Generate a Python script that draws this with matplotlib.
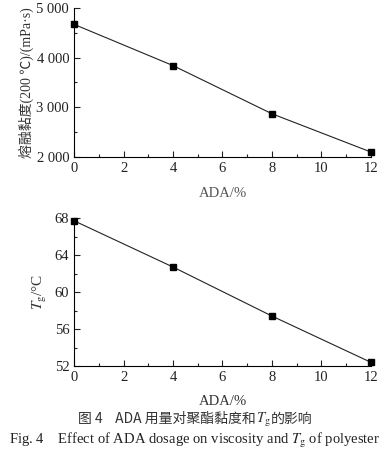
import matplotlib
matplotlib.use('Agg')
import matplotlib.pyplot as plt
from matplotlib.ticker import MultipleLocator
from matplotlib.offsetbox import TextArea, HPacker, AnchoredOffsetbox

plt.rcParams['font.family'] = ['Liberation Serif', 'Noto Sans CJK SC', 'DejaVu Sans']
plt.rcParams['mathtext.fontset'] = 'stix'

# data
ada = [0, 4, 8, 12]
viscosity = [4670, 3840, 2870, 2100]
tg = [67.7, 62.7, 57.4, 52.4]

x_ticks = [0, 2, 4, 6, 8, 10, 12]
visc_ticks = [2000, 3000, 4000, 5000]
visc_labels = ['2 000', '3 000', '4 000', '5 000']
tg_ticks = [52, 56, 60, 64, 68]

fig = plt.figure(figsize=(3.9, 4.59), dpi=100)
ax1 = fig.add_axes([0.19, 0.658, 0.761, 0.3246])
ax2 = fig.add_axes([0.19, 0.2026, 0.761, 0.3224])

def style(ax):
    for s in ['top', 'right']:
        ax.spines[s].set_visible(False)
    for s in ['left', 'bottom']:
        ax.spines[s].set_linewidth(0.8)
    ax.tick_params(which='both', direction='in', labelsize=10.5, width=0.8, colors='#222222')
    ax.tick_params(which='major', length=4)
    ax.tick_params(which='minor', length=2.5)
    ax.set_xlim(0, 12)
    ax.set_xticks(x_ticks)
    ax.xaxis.set_minor_locator(MultipleLocator(1))

ax1.plot(ada, viscosity, color='#222222', lw=0.8, marker='s', ms=5, mfc='black', mec='black', clip_on=False)
style(ax1)
ax1.set_xlabel('ADA/%', fontsize=10.5, color='#555555', labelpad=9)
ax1.set_ylim(2000, 5000)
ax1.set_yticks(visc_ticks)
ax1.set_yticklabels(visc_labels)
ax1.yaxis.set_minor_locator(MultipleLocator(500))
ax1.set_ylabel('熔融黏度(200 ℃)/(mPa·s)', fontsize=10, color='#333333', labelpad=2)

ax2.plot(ada, tg, color='#222222', lw=0.8, marker='s', ms=5, mfc='black', mec='black', clip_on=False)
style(ax2)
ax2.set_xlabel('ADA/%', fontsize=10.5, color='#333333', labelpad=8)
ax2.set_ylim(52, 68)
ax2.set_yticks(tg_ticks)
ax2.yaxis.set_minor_locator(MultipleLocator(2))
ax2.set_ylabel(r'$T_{\rm g}$/°C', fontsize=11, color='#333333', labelpad=4)

# captions (mixed CJK text and math, packed side by side)
cjk = dict(fontsize=10, color='#333333', family=['Noto Sans CJK SC', 'DejaVu Sans'])
cap_cn = HPacker(children=[
    TextArea('图 4    ADA 用量对聚酯黏度和', textprops=cjk),
    TextArea(r'$T_{\rm g}$', textprops=dict(fontsize=10.5, color='#333333')),
    TextArea('的影响', textprops=cjk),
], sep=0, align='baseline', pad=0)
fig.add_artist(AnchoredOffsetbox(loc='center', child=cap_cn, pad=0, frameon=False,
                                 bbox_to_anchor=(0.5, 0.086), bbox_transform=fig.transFigure, borderpad=0))
fig.text(0.5, 0.041, 'Fig. 4    Effect of ADA dosage on viscosity and $T_{\\rm g}$ of polyester',
         ha='center', va='center', fontsize=10.5, color='#222222')

fig.savefig('out.png', dpi=100)
